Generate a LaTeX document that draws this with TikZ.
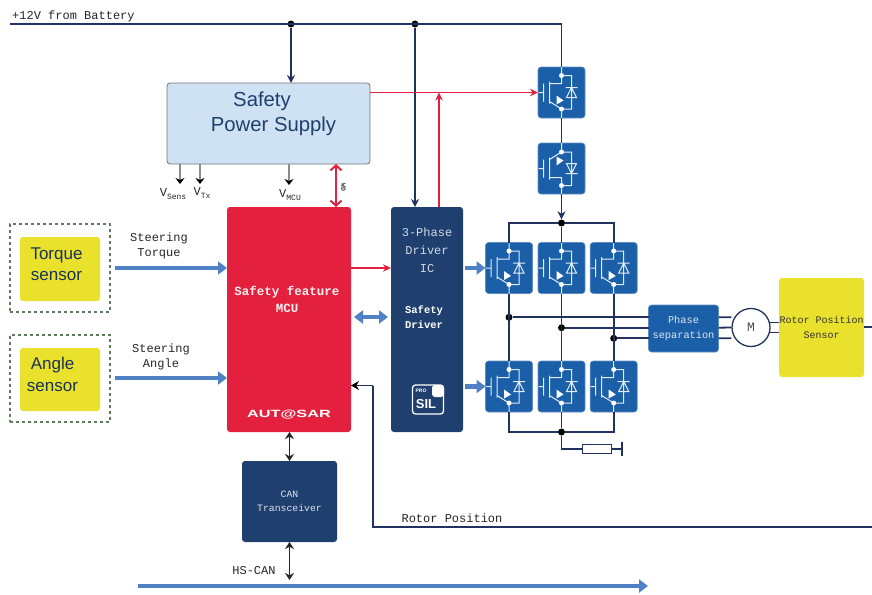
\documentclass[tikz,border=0pt]{standalone}
\usepackage{fontspec}
\setmainfont{Liberation Mono}
\newfontfamily\sansf{Liberation Sans}
\usetikzlibrary{arrows.meta,calc}
\definecolor{navyc}{HTML}{1F3F6E}
\definecolor{wirec}{HTML}{22325F}
\definecolor{mosc}{HTML}{1B5FA8}
\definecolor{redc}{HTML}{E3213F}
\definecolor{bluec}{HTML}{4F81C4}
\definecolor{yelc}{HTML}{E9E12B}
\definecolor{supc}{HTML}{CFE2F3}
\definecolor{dashc}{HTML}{5E7B5E}
\tikzset{
  x=1pt,y=-1pt,
  box/.style={rounded corners=3pt,inner sep=0pt,outer sep=0pt,align=center},
  mosbox/.style={box,fill=mosc,draw=mosc!70!white,line width=.6pt,minimum width=47pt,minimum height=51pt},
  sensbox/.style={box,fill=yelc,minimum width=80pt,minimum height=64pt},
  senstxt/.style={inner sep=0pt,align=center,text=navyc!80!black,font=\sansf\fontsize{17}{21.5}\selectfont},
  suptxt/.style={inner sep=0pt,text=navyc,font=\sansf\fontsize{20.3}{25}\selectfont},
  dashbox/.style={draw=dashc,dashed,line width=1.5pt,inner sep=0pt,outer sep=0pt,minimum width=100pt,minimum height=88pt},
  wire/.style={draw=wirec,line width=1.8pt},
  warrow/.style={wire,-{Stealth[length=8pt,width=8pt]}},
  redarrow/.style={draw=redc,line width=1.1pt,-{Stealth[length=8pt,width=7.5pt]}},
  fat/.style={draw=bluec,line width=4.5pt,-{Triangle[length=9pt,width=13pt]}},
  fatboth/.style={draw=bluec,line width=4.5pt,{Triangle[length=9pt,width=13pt]}-{Triangle[length=9pt,width=13pt]}},
  blk/.style={draw=black!85,line width=1.2pt,{Stealth[length=7pt,width=9pt]}-{Stealth[length=7pt,width=9pt]}},
  dot/.style={circle,fill=black,inner sep=0pt,minimum size=7pt},
  lab/.style={inner sep=0pt,font=\fontsize{12}{14.5}\selectfont,align=center,text=black!85},
  mos/.pic={
    \draw[white!88!mosc,line width=1pt]
      (0,-25.5)--(0,-17)--(10,-17)--(10,16.5)--(0,16.5)--(0,25.5)
      (0,-17)--(0,-9)--(-12,-9)
      (-12,9)--(0,16.5)
      (-23,0)--(-18,0)
      (-18,-9)--(-18,9)
      (-12,-11)--(-12,11)
      (4,-5)--(16,-5)
      (10,-5)--(5,5)--(15,5)--cycle;
    \fill[white] (0,-17) circle (2.5) (0,16.5) circle (2.5);
    \fill[white] (-5,3)--(-5,12)--(2,8)--cycle;
  }
}
\begin{document}
\begin{tikzpicture}
\useasboundingbox (0,0) rectangle (872,594);
% Power and control blocks
\node[box,fill=supc,draw=black!55,line width=.8pt,minimum width=203pt,minimum height=81pt] (supply) at (268.5,123.5) {};
\node[suptxt] (sup1) at (262,101) {Safety};
\node[suptxt] (sup2) at (273.5,126) {Power Supply};
\node[box,fill=redc,minimum width=124pt,minimum height=225pt] (mcu) at (289,319.5) {};
\node[box,fill=navyc,minimum width=72pt,minimum height=225pt] (drv) at (427,319.5) {};
\node[box,fill=navyc,minimum width=95pt,minimum height=81pt,text=white!85!navyc,font=\fontsize{9.8}{14}\selectfont] (can) at (289.5,501.5) {CAN\\Transceiver};
\node[inner sep=0pt,text=white!92!redc,align=center,font=\bfseries\fontsize{12.5}{17}\selectfont] (mcutxt) at (287,299.5) {Safety feature\\MCU};
\node[inner sep=0pt,text=white,font=\sansf\bfseries\fontsize{10.5}{12}\selectfont] (autosar) at (289,415) {\scalebox{1.55}[1]{AUT@SAR}};
\node[inner sep=0pt,text=white!80!navyc,align=center,font=\fontsize{12}{18}\selectfont] (drvtxt) at (427,250) {3-Phase\\Driver\\IC};
\node[inner sep=0pt,text=white,align=center,font=\bfseries\fontsize{10.5}{15}\selectfont] (sdtxt) at (424,317.5) {Safety\\Driver};
% SIL badge
\node[box,draw=white,line width=1.3pt,minimum width=31pt,minimum height=29pt] (silb) at (428,399.5) {};
\node[box,fill=white,minimum width=12pt,minimum height=12pt] (silq) at (438,391) {};
\node[inner sep=0pt,text=white,font=\sansf\bfseries\fontsize{5}{6}\selectfont] (pro) at (421,391) {PRO};
\node[inner sep=0pt,text=white,font=\sansf\bfseries\fontsize{13}{14}\selectfont] (sil) at (426,404) {SIL};
% Sensors
\node[dashbox] (tq) at (60,268) {};
\node[sensbox] (tqs) at (60,269) {};
\node[senstxt] (tqt) at (56.5,264) {Torque\\sensor};
\node[dashbox,minimum height=87pt] (an) at (60,378.5) {};
\node[sensbox,minimum height=63pt] (ans) at (60,379.5) {};
\node[senstxt] (ant) at (52.5,374.5) {Angle\\sensor};
\node[box,fill=yelc,minimum width=85pt,minimum height=99pt,text=black!80,font=\fontsize{10}{15}\selectfont] (rps) at (821.5,327.5) {Rotor Position\\Sensor};
% MOSFETs
\node[mosbox] (q1) at (561.5,92.5) {};
\node[mosbox] (q2) at (561.5,168.5) {};
\node[mosbox] (h1) at (509,268) {};
\node[mosbox] (h2) at (561.5,268) {};
\node[mosbox] (h3) at (613.7,268) {};
\node[mosbox] (l1) at (509,386.5) {};
\node[mosbox] (l2) at (561.5,386.5) {};
\node[mosbox] (l3) at (613.7,386.5) {};
\pic at (q1) {mos};
\pic[yscale=-1] at (q2) {mos};
\foreach \n in {h1,h2,h3,l1,l2,l3} {\pic at (\n) {mos};}
% Phase block and motor
\node[box,fill=mosc,draw=mosc!70!white,line width=.6pt,minimum width=70pt,minimum height=47pt,text=white!85!mosc,font=\fontsize{10.3}{15}\selectfont] (phase) at (683.5,328.5) {Phase\\separation};
\node[circle,draw=wirec,line width=1.3pt,fill=white,minimum size=38pt,inner sep=0pt,text=black!70,font=\fontsize{13}{14}\selectfont] (motor) at (751,327.5) {M};
% Coordinates
\coordinate (batt) at (10,24);
\coordinate (corner) at (561.5,24);
\node[dot] (d1) at (291,24) {};
\node[dot] (d2) at (415,24) {};
\node[dot] (top) at (561.5,223) {};
\node[dot] (bot) at (561.5,432) {};
\node[dot] (p1) at (509,317.3) {};
\node[dot] (p2) at (561.5,327.7) {};
\node[dot] (p3) at (613.7,338.3) {};
\node[draw=wirec,line width=1.2pt,fill=white,minimum width=29pt,minimum height=9pt,inner sep=0pt] (res) at (597.3,448.7) {};
\coordinate (gnd) at (622.3,448.7);
\coordinate (gndt) at (622.3,441.5);
\coordinate (gndb) at (622.3,456);
% Wires
\draw[wire] (batt)--(corner)--(q1.north);
\draw[warrow] (d1)--(d1 |- supply.north);
\draw[warrow] (d2)--(d2 |- drv.north);
\draw[wire] (q1.south)--(q2.north);
\draw[warrow] (q2.south)--(top.north);
\draw[wire] (h1.north)|-(top) (h3.north)|-(top);
\draw[wire] (h1.south)--(l1.north) (h2.south)--(l2.north) (h3.south)--(l3.north);
\draw[wire] (h2.north)--(top);
\draw[wire] (l1.south)|-(bot) (l3.south)|-(bot) (l2.south)--(bot);
\draw[wire] (bot)|-(res.west) (res.east)--(gnd);
\draw[wire] (gndt)--(gndb);
\draw[wire] (p1)--(p1 -| phase.west);
\draw[wire] (p2)--(p2 -| phase.west);
\draw[wire] (p3)--(p3 -| phase.west);
\coordinate (pa) at (phase.east |- p1);
\coordinate (pb) at (phase.east |- p2);
\coordinate (pc) at (phase.east |- p3);
\draw[wire] (pa)--(pa -| motor.west) (pb)--(motor.west) (pc)--(pc -| motor.west);
\coordinate (ma) at (770,322.7);
\coordinate (mb) at (770,332.7);
\draw[wire,line width=1.2pt] (ma)--(ma -| rps.west) (mb)--(mb -| rps.west);
\coordinate (re) at (872,327);
\draw[wire,line width=1.2pt] (rps.east |- re)--(re);
% Red
\coordinate (rs) at (supply.east |- q1);
\draw[redarrow] (rs)--(q1.west);
\coordinate (ru) at (439,92.5);
\draw[redarrow] (drv.north -| ru)--(ru);
\coordinate (mr) at (mcu.east |- h1);
\draw[redarrow] (mr)--(mr -| drv.west);
\coordinate (wd) at (336,0);
\draw[draw=redc,line width=2pt,{Straight Barb[length=5pt,width=11pt]}-{Straight Barb[length=5pt,width=11pt]}] (supply.south -| wd)--(mcu.north -| wd);
\node[inner sep=0pt,rotate=-90,text=black!80,font=\bfseries\fontsize{6.5}{7}\selectfont] (wdl) at (343.5,187) {WD};
% Supply outputs
\coordinate (vs) at (180,184);
\coordinate (vt) at (200,184);
\coordinate (vm) at (289,185);
\draw[draw=black!45,line width=1.2pt,-{Stealth[length=6pt,width=9pt,black]}] (supply.south -| vs)--(vs);
\draw[draw=black!45,line width=1.2pt,-{Stealth[length=6pt,width=9pt,black]}] (supply.south -| vt)--(vt);
\draw[draw=black!45,line width=1.2pt,-{Stealth[length=6pt,width=9pt,black]}] (supply.south -| vm)--(vm);
\node[lab] (vsl) at (173,194) {V\raisebox{-2.5pt}{\fontsize{8}{9}\selectfont Sens}};
\node[lab] (vtl) at (202,193) {V\raisebox{-2.5pt}{\fontsize{8}{9}\selectfont Tx}};
\node[lab] (vml) at (290,195) {V\raisebox{-2.5pt}{\fontsize{8}{9}\selectfont MCU}};
% Fat arrows
\coordinate (ta) at (115,268);
\coordinate (aa) at (115,378);
\draw[fat] (ta)--(ta -| mcu.west);
\draw[fat] (aa)--(aa -| mcu.west);
\coordinate (fa) at (354,317);
\coordinate (fb) at (388,317);
\draw[fatboth] (fa)--(fb);
\coordinate (g1) at (465,268);
\coordinate (g2) at (465,386.5);
\draw[fat] (g1)--(h1.west);
\draw[fat] (g2)--(l1.west);
\coordinate (hsa) at (138,586);
\coordinate (hsb) at (648,586);
\draw[fat] (hsa)--(hsb);
% Black
\draw[blk] (mcu.south -| can.north)--(can.north);
\coordinate (hs) at (289.5,580);
\draw[blk] (can.south)--(hs);
\coordinate (rot) at (872,527);
\coordinate (rotc) at (373,527);
\coordinate (roti) at (373,385.5);
\draw[draw=wirec,line width=1.2pt] (rot)--(rotc)--(roti);
\draw[draw=wirec,line width=1.2pt,-{Stealth[length=8pt,width=9pt,black]}] (roti)--(roti -| mcu.east);
% Labels
\node[lab,anchor=west] (bl) at (12,16) {+12V from Battery};
\node[lab] (st) at (159,246) {Steering\\Torque};
\node[lab] (sa) at (161,357) {Steering\\Angle};
\node[lab] (rp) at (452,518) {Rotor Position};
\node[lab] (hl) at (254,571) {HS-CAN};
\end{tikzpicture}
\end{document}
